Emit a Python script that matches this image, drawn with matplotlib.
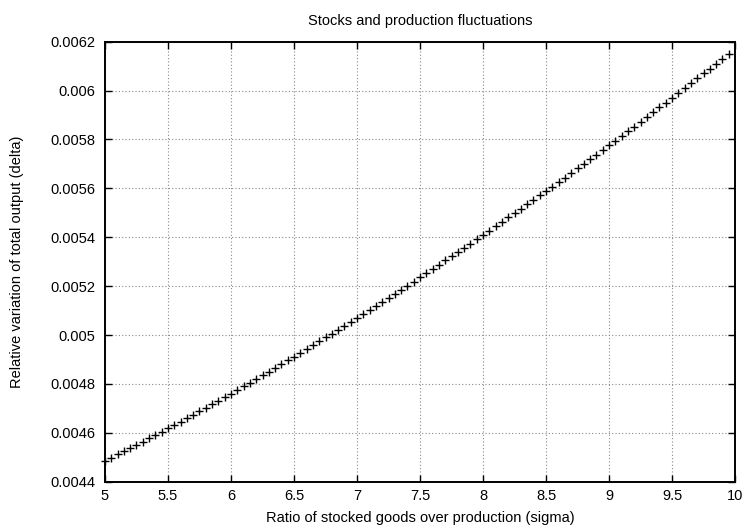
import numpy as np
import matplotlib
matplotlib.use("Agg")
import matplotlib.pyplot as plt
from matplotlib.ticker import FuncFormatter, MultipleLocator

# sigma grid: 5.0 to 9.95 in steps of 0.05
sigma = np.linspace(5.0, 9.95, 100)

# delta values (units of 1e-6)
delta_e6 = [
    4486, 4499, 4512, 4525, 4538, 4551, 4564, 4578, 4591, 4604,
    4618, 4632, 4646, 4660, 4674, 4688, 4703, 4717, 4731, 4746,
    4760, 4775, 4790, 4805, 4820, 4835, 4850, 4865, 4880, 4896,
    4911, 4927, 4942, 4958, 4974, 4990, 5006, 5022, 5038, 5054,
    5070, 5086, 5103, 5119, 5136, 5152, 5169, 5186, 5202, 5219,
    5236, 5253, 5270, 5288, 5305, 5322, 5339, 5357, 5374, 5392,
    5409, 5427, 5445, 5463, 5481, 5499, 5517, 5535, 5553, 5571,
    5589, 5607, 5626, 5644, 5663, 5682, 5700, 5719, 5738, 5757,
    5776, 5795, 5814, 5834, 5853, 5872, 5892, 5911, 5931, 5950,
    5970, 5990, 6010, 6030, 6050, 6070, 6090, 6110, 6130, 6150,
]
delta = np.array(delta_e6) * 1e-6

title = "Stocks and production fluctuations"
xlabel = "Ratio of stocked goods over production (sigma)"
ylabel = "Relative variation of total output (delta)"

plt.rcParams["font.family"] = ["Liberation Sans", "DejaVu Sans"]
fs = 10.5

fig = plt.figure(figsize=(7.43, 5.26), dpi=100)
ax = fig.add_axes([0.1413, 0.0842, 0.848, 0.8365])

ax.plot(sigma, delta, linestyle="none", marker="+", color="black",
        markersize=6, markeredgewidth=1.0, clip_on=False)

ax.set_xlim(5, 10)
ax.set_ylim(0.0044, 0.0062)
ax.xaxis.set_major_locator(MultipleLocator(0.5))
ax.yaxis.set_major_locator(MultipleLocator(0.0002))
fmt = FuncFormatter(lambda v, pos: "%g" % round(v, 6))
ax.xaxis.set_major_formatter(fmt)
ax.yaxis.set_major_formatter(fmt)

ax.tick_params(direction="in", length=5, width=1, top=True, right=True,
               labelsize=fs)
ax.tick_params(axis="x", pad=5.3)
ax.tick_params(axis="y", pad=6.7)
for s in ax.spines.values():
    s.set_linewidth(1.4)
ax.grid(True, color="#888888", linestyle=(0, (1, 2)), linewidth=0.8)

ax.set_title(title, fontsize=fs, pad=12)
ax.set_xlabel(xlabel, fontsize=fs, labelpad=6)
ax.set_ylabel(ylabel, fontsize=fs)
ax.yaxis.set_label_coords(-0.128, 0.5)

fig.savefig("out.png", dpi=100)
